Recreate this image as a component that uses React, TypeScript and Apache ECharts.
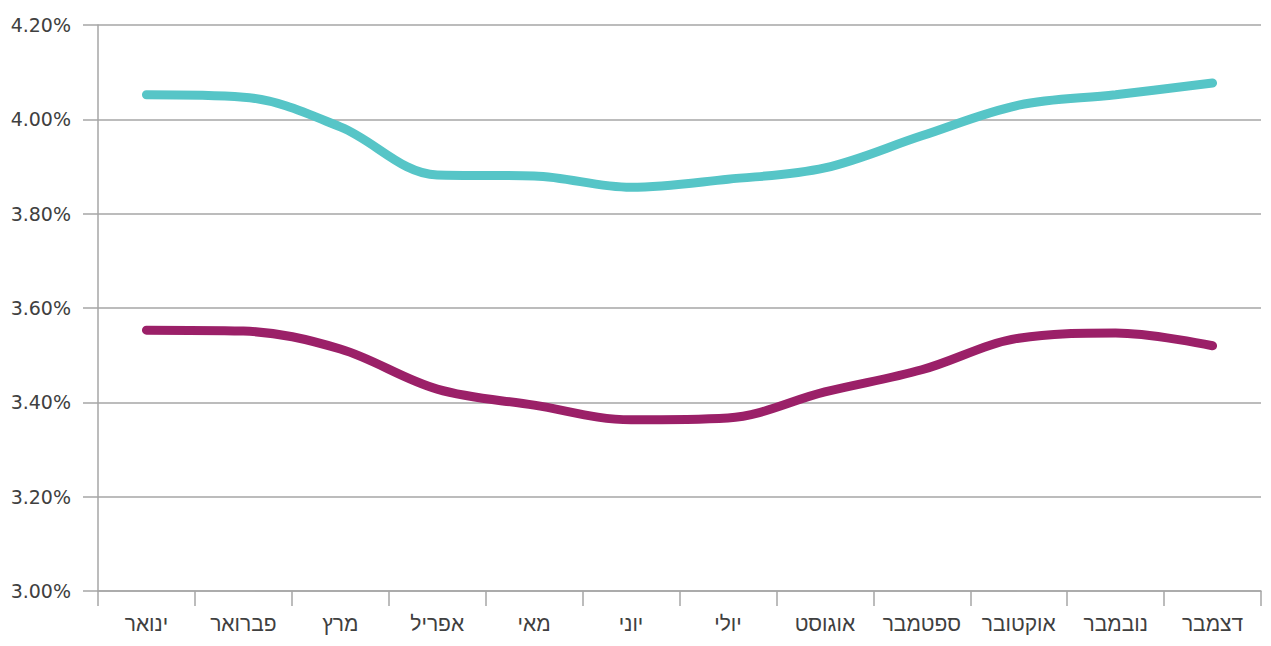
import React, { useEffect, useRef } from "react";
import * as echarts from "echarts";

const months = ["ינואר", "פברואר", "מרץ", "אפריל", "מאי", "יוני", "יולי", "אוגוסט", "ספטמבר", "אוקטובר", "נובמבר", "דצמבר"];
const tealSeries = [4.052, 4.047, 3.984, 3.882, 3.88, 3.856, 3.873, 3.897, 3.965, 4.03, 4.052, 4.077];
const purpleSeries = [3.553, 3.551, 3.513, 3.428, 3.394, 3.363, 3.367, 3.422, 3.469, 3.536, 3.547, 3.52];

export default function App() {
  const ref = useRef<HTMLDivElement>(null);
  useEffect(() => {
    if (!ref.current) return;
    const chart = echarts.init(ref.current, undefined, { renderer: "svg" });
    const axisColor = "#a6a6a6";
    chart.setOption({
      animation: false,
      grid: { left: 98, right: 10, top: 25, bottom: 55, containLabel: false },
      xAxis: {
        type: "category",
        data: months,
        boundaryGap: true,
        axisLine: { lineStyle: { color: axisColor, width: 1.5 } },
        axisTick: { show: true, interval: 0, length: 15, lineStyle: { color: axisColor, width: 1.5 } },
        axisLabel: {
          interval: 0,
          hideOverlap: false,
          margin: 22,
          color: "#404040",
          fontSize: 21,
          fontFamily: "'Liberation Sans', Arial, sans-serif",
        },
      },
      yAxis: {
        type: "value",
        min: 3.0,
        max: 4.2,
        interval: 0.2,
        axisLine: { show: true, lineStyle: { color: axisColor, width: 1.5 } },
        axisTick: { show: true, length: 15, lineStyle: { color: axisColor, width: 1.5 } },
        splitLine: { show: true, lineStyle: { color: axisColor, width: 1.5 } },
        axisLabel: {
          margin: 27,
          color: "#404040",
          fontSize: 19,
          fontFamily: "'DejaVu Sans', sans-serif",
          formatter: (v: number) => v.toFixed(2) + "%",
        },
      },
      series: [
        {
          type: "line",
          data: tealSeries,
          smooth: 0.35,
          symbol: "none",
          lineStyle: { color: "#56C5C7", width: 9, cap: "round" },
        },
        {
          type: "line",
          data: purpleSeries,
          smooth: 0.35,
          symbol: "none",
          lineStyle: { color: "#9B2068", width: 9, cap: "round" },
        },
      ],
    });
    return () => chart.dispose();
  }, []);
  return <div ref={ref} style={{ width: 1271, height: 646, position: "absolute", left: 0, top: 0 }} />;
}
